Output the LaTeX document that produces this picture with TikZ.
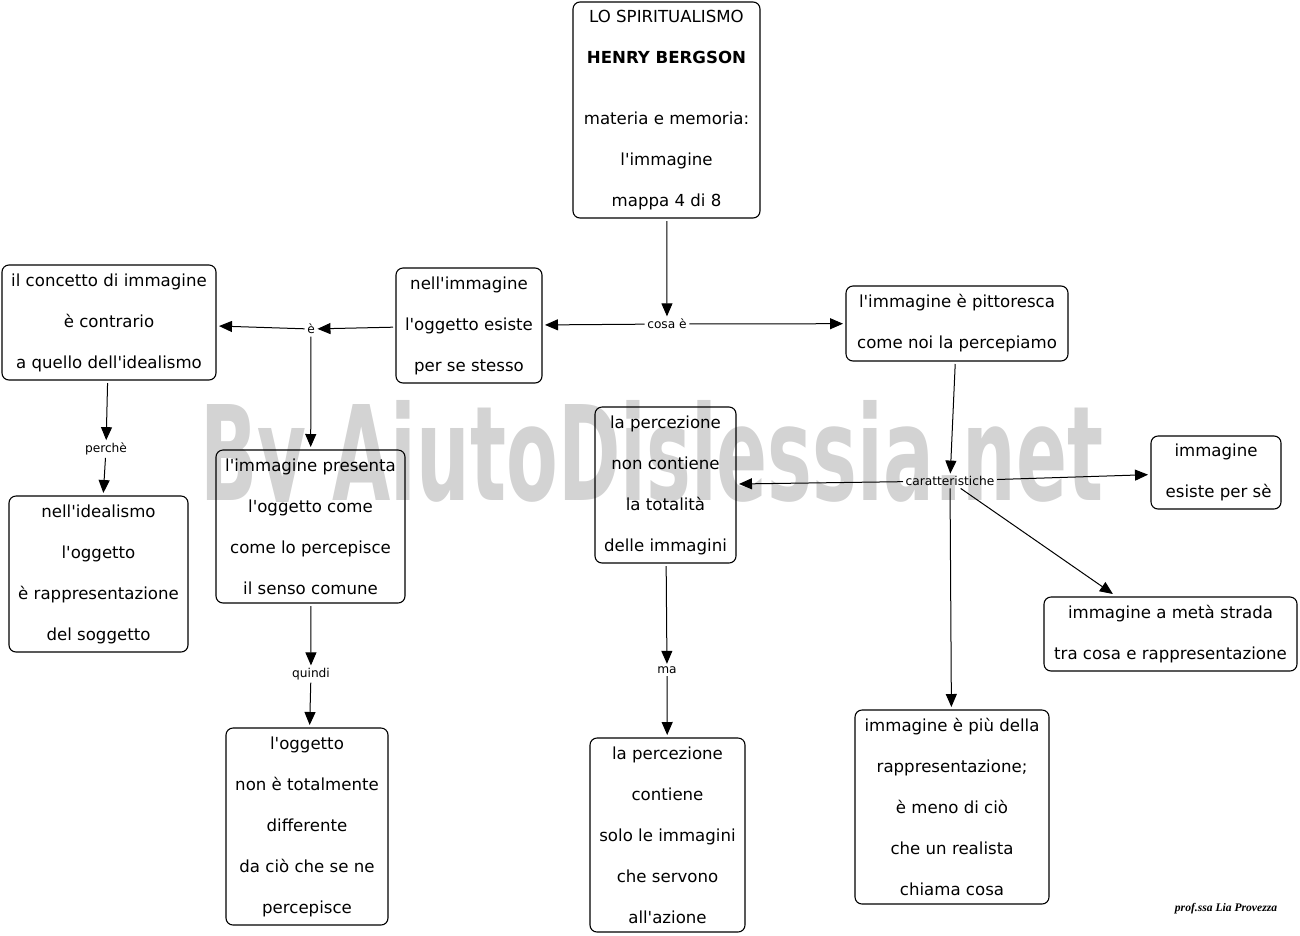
\documentclass[tikz,border=0pt]{standalone}
\usepackage{fontspec}
\usepackage{graphicx}
\usetikzlibrary{arrows.meta}
\newfontfamily\dvs{DejaVu Sans}
\newfontfamily\wmfont{DejaVu Sans Condensed}
\newfontfamily\sigfont{Liberation Serif}
\definecolor{wmgray}{HTML}{D3D3D3}
\begin{document}
\begin{tikzpicture}[x=1pt,y=-1pt,
  box/.style={draw, rounded corners=7pt, line width=1.1pt, align=center, inner sep=0pt, outer sep=3pt, font=\dvs\fontsize{16.6}{41}\selectfont},
  lab/.style={font=\dvs\fontsize{12.2}{14}\selectfont, inner sep=2.5pt},
  arr/.style={-{Triangle[length=13pt,width=11pt]}, line width=1pt}]
\useasboundingbox (0,0) rectangle (1300,935);
% watermark
\begin{scope}
\clip (0,380) rectangle (1300,501);
\node[anchor=base west, inner sep=0pt, text=wmgray] (wm) at (200,500) {\resizebox{903pt}{100pt}{\wmfont\bfseries By AiutoDislessia.net}};
\end{scope}
% boxes
\node[box, minimum width=187pt, minimum height=216pt] (top) at (666.5,110) {LO SPIRITUALISMO\\\textbf{HENRY BERGSON}\\[20.5pt]materia e memoria:\\l'immagine\\mappa 4 di 8};
\node[box, minimum width=146pt, minimum height=115pt] (n2) at (469,325.5) {nell'immagine\\l'oggetto esiste\\per se stesso};
\node[box, minimum width=214pt, minimum height=115pt] (n3) at (109,322.5) {il concetto di immagine\\è contrario\\a quello dell'idealismo};
\node[box, minimum width=222pt, minimum height=75pt] (n4) at (957,323.5) {l'immagine è pittoresca\\come noi la percepiamo};
\node[box, minimum width=141pt, minimum height=156pt] (n5) at (665.5,485) {la percezione\\non contiene\\la totalità\\delle immagini};
\node[box, minimum width=130pt, minimum height=73pt] (n6) at (1216,472.5) {immagine\\\ esiste per sè};
\node[box, minimum width=179pt, minimum height=156pt] (n7) at (98.5,574) {nell'idealismo\\l'oggetto\\è rappresentazione\\del soggetto};
\node[box, minimum width=189pt, minimum height=153pt] (n8) at (310.5,526.5) {l'immagine presenta\\l'oggetto come\\come lo percepisce\\il senso comune};
\node[box, minimum width=253pt, minimum height=74pt] (n9) at (1170.5,634) {immagine a metà strada\\tra cosa e rappresentazione};
\node[box, minimum width=162pt, minimum height=197pt] (n10) at (307,826.5) {l'oggetto\\non è totalmente\\differente\\da ciò che se ne\\percepisce};
\node[box, minimum width=155pt, minimum height=194pt] (n11) at (667.5,835) {la percezione\\contiene\\solo le immagini\\che servono\\all'azione};
\node[box, minimum width=194pt, minimum height=194pt] (n12) at (952,807) {immagine è più della\\rappresentazione;\\è meno di ciò\\che un realista\\chiama cosa};
% labels
\node[lab] (cosa) at (667,324) {cosa è};
\node[lab] (e) at (311,329) {è};
\node[lab] (perche) at (106,449) {perchè};
\node[lab] (car) at (950,481) {caratteristiche};
\node[lab] (quindi) at (311,674) {quindi};
\node[lab] (ma) at (667,670) {ma};
% signature
\node[font=\sigfont\itshape\bfseries\fontsize{11.6}{13}\selectfont, inner sep=0pt] (sig) at (1226,909) {prof.ssa Lia Provezza};
% connectors
\draw[arr] (top) -- (cosa);
\draw[arr] (cosa) -- (n2);
\draw[arr] (cosa) -- (n4);
\draw[arr] (n2) -- (e);
\draw[arr] (e) -- (n3);
\draw[arr] (e) -- (n8);
\draw[arr] (n3) -- (perche);
\draw[arr] (perche) -- (n7);
\draw[arr] (n4) -- (car);
\draw[arr] (car) -- (n5);
\draw[arr] (car) -- (n6);
\draw[arr] (car) -- (n9);
\draw[arr] (car) -- (n12);
\draw[arr] (n8) -- (quindi);
\draw[arr] (quindi) -- (n10);
\draw[arr] (n5) -- (ma);
\draw[arr] (ma) -- (n11);
\end{tikzpicture}
\end{document}
